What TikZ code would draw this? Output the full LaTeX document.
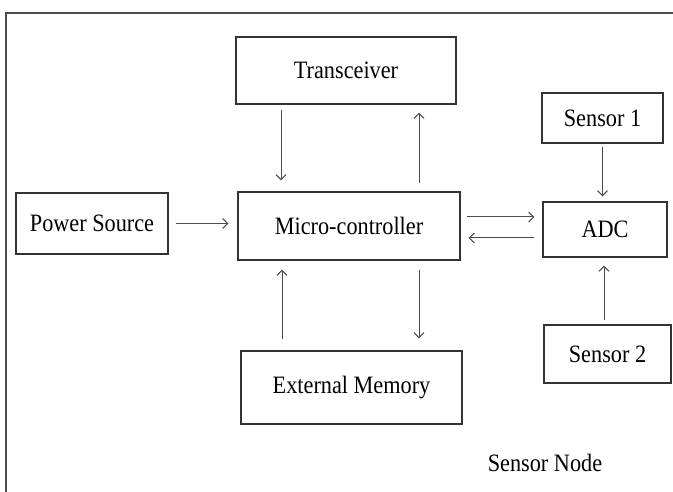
\documentclass[tikz,border=0pt]{standalone}
\usepackage{fontspec}
\setmainfont{Liberation Serif}[FakeStretch=0.89]
\usetikzlibrary{arrows.meta}
\begin{document}
\begin{tikzpicture}[x=1pt,y=-1pt,
  blk/.style={draw=black!80,line width=1.3pt,rectangle,inner sep=0pt,
    font=\fontsize{25}{30}\selectfont},
  arr/.style={draw=black!70,line width=1pt,-{Straight Barb[length=5pt,width=10pt]}},
  frame/.style={draw=black!70,line width=1.5pt}]
\useasboundingbox (0,0) rectangle (673,492);
\draw[frame] (6,492) -- (6,13) -- (673,13);
\node[blk,minimum width=220pt,minimum height=67pt] (trans) at (346,70.5) {Transceiver};
\node[blk,minimum width=222pt,minimum height=68pt] (mc) at (349,226) {Micro-controller};
\node[blk,minimum width=152pt,minimum height=61pt] (power) at (92,223.5) {Power Source};
\node[blk,minimum width=221pt,minimum height=73pt] (mem) at (351.5,387.5) {External Memory};
\node[blk,minimum width=121pt,minimum height=50pt] (s1) at (602.5,118) {Sensor 1};
\node[blk,minimum width=124pt,minimum height=55pt] (adc) at (605,229.5) {ADC};
\node[blk,minimum width=127pt,minimum height=58pt] (s2) at (607.5,354) {Sensor 2};
\node[inner sep=0pt,font=\fontsize{25}{30}\selectfont] (lbl) at (545,463) {Sensor Node};
% connectors
\draw[arr,shorten <=5pt,shorten >=11pt] ([xshift=-65pt]trans.south) -- ([xshift=-68pt]mc.north);
\draw[arr,shorten <=8pt,shorten >=8pt] ([xshift=70pt]mc.north) -- ([xshift=73pt]trans.south);
\draw[arr,shorten <=7pt,shorten >=9pt] (power.east) -- (power.east -| mc.west);
\draw[arr,shorten <=6pt,shorten >=8pt] ([yshift=9pt]mc.east) -- ([yshift=9pt]mc.east -| adc.west);
\draw[arr,shorten <=8pt,shorten >=8pt] ([yshift=-12pt]mc.east -| adc.west) -- ([yshift=-12pt]mc.east);
\draw[arr,shorten <=11pt,shorten >=9pt] ([xshift=-69.5pt]mem.north) -- ([xshift=-67pt]mc.south);
\draw[arr,shorten <=9pt,shorten >=12pt] ([xshift=70pt]mc.south) -- ([xshift=67.5pt]mem.north);
\draw[arr,shorten <=3pt,shorten >=5pt] (s1.south) -- (s1.south |- adc.north);
\draw[arr,shorten <=4pt,shorten >=8pt] ([xshift=-3.5pt]s2.north) -- ([xshift=-3.5pt]s2.north |- adc.south);
\end{tikzpicture}
\end{document}
